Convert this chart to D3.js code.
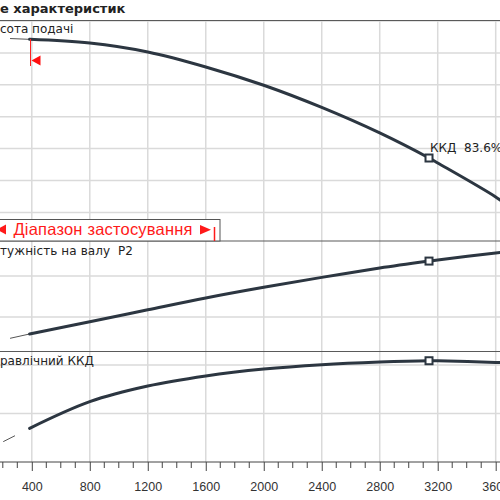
<!DOCTYPE html>
<meta charset="utf-8">
<style>
body { margin: 0; background: #fff; }
.grid line { stroke: #dadada; stroke-width: 1.5px; }
.sep { stroke: #5a5a5a; stroke-width: 1.2px; }
.curve { fill: none; stroke: #2c3641; stroke-width: 3px; stroke-linecap: round; }
.thin { fill: none; stroke: #555; stroke-width: 1px; }
.lbl { font-family: "DejaVu Sans", sans-serif; font-size: 12px; fill: #222; white-space: pre; }
</style>
<body>
<script src="https://d3js.org/d3.v7.min.js"></script>
<script>

// data
var flow      = [385, 800, 1200, 1600, 2000, 2400, 2800, 3140, 3200, 3600, 3700];
var head      = [58.85, 58.62, 58.06, 57.12, 55.97, 54.58, 52.98, 51.41, 51.10, 48.97, 48.30];
var power     = [17.93, 19.42, 20.88, 22.32, 23.62, 24.83, 25.97, 26.82, 26.96, 27.80, 27.98];
var eff       = [27.8, 49.8, 62.7, 71.0, 76.7, 80.3, 82.5, 83.6, 83.6, 82.2, 81.7];
// thin parts left of the range
var lowFlow   = [250, 385];
var headLow   = [58.90, 58.85];
var powerLow  = [17.40, 17.93];
var effFlow   = [203, 284];
var effLow    = [16.8, 21.7];
var dutyFlow  = 3140;
var xTicks    = [400, 800, 1200, 1600, 2000, 2400, 2800, 3200, 3600];
var headGrid  = [48, 50, 52, 54, 56, 58, 60];
var powerGrid = [20, 25];
var effGrid   = [40, 80];

var svg = d3.select("body").append("svg")
    .attr("width", 500)
    .attr("height", 500);

// scales
var x = d3.scaleLinear().domain([400, 3600]).range([31.8, 495.7]);
var yH = d3.scaleLinear().domain([48, 60]).range([212.4, 21]);
var yP = d3.scaleLinear().domain([20, 25]).range([317, 276]);
var yE = d3.scaleLinear().domain([0, 80]).range([462, 365.1]);

// grid
var grid = svg.append("g").attr("class", "grid");
grid.selectAll(".v").data(xTicks).enter().append("line")
    .attr("x1", d => x(d)).attr("x2", d => x(d))
    .attr("y1", 20).attr("y2", 462);
[[headGrid, yH], [powerGrid, yP], [effGrid, yE]].forEach(function(g) {
  grid.selectAll(null).data(g[0]).enter().append("line")
      .attr("x1", 0).attr("x2", 500)
      .attr("y1", d => g[1](d)).attr("y2", d => g[1](d));
});

// panel separators
[20.5, 241, 351.5].forEach(function(y) {
  svg.append("line").attr("class", "sep")
      .attr("x1", 0).attr("x2", 500).attr("y1", y).attr("y2", y);
});

// x axis
var minor = d3.range(200, 3700, 100).filter(d => d % 400 != 0);
var axis = svg.append("g").attr("transform", "translate(0,462)")
    .call(d3.axisBottom(x).tickValues(xTicks).tickSize(9).tickPadding(11).tickFormat(d3.format("d")));
axis.select(".domain").attr("d", "M0,0H500").attr("stroke", "#444");
axis.selectAll(".tick line").attr("stroke", "#444");
axis.selectAll("text").attr("font-family", "'Liberation Sans', Arial, sans-serif")
    .attr("font-size", "12.5px").attr("fill", "#333");
axis.selectAll(".minor").data(minor).enter().append("line")
    .attr("x1", d => x(d)).attr("x2", d => x(d))
    .attr("y1", 0).attr("y2", 6).attr("stroke", "#444");

// curves
function draw(xs, ys, yScale, cls) {
  var pts = xs.map((q, i) => [x(q), yScale(ys[i])]);
  svg.append("path").attr("class", cls)
      .attr("d", d3.line().curve(cls == "curve" ? d3.curveCatmullRom.alpha(0.5) : d3.curveLinear)(pts));
}
draw(lowFlow, headLow, yH, "thin");
draw(lowFlow, powerLow, yP, "thin");
draw(effFlow, effLow, yE, "thin");
draw(flow, head, yH, "curve");
draw(flow, power, yP, "curve");
draw(flow, eff, yE, "curve");

// duty point markers
var i = flow.indexOf(dutyFlow);
[[head, yH], [power, yP], [eff, yE]].forEach(function(c) {
  svg.append("rect")
      .attr("x", x(dutyFlow) - 3.5).attr("y", c[1](c[0][i]) - 3.5)
      .attr("width", 7).attr("height", 7)
      .attr("fill", "#fff").attr("stroke", "#2c3641").attr("stroke-width", 2);
});

// red start marker
svg.append("line").attr("x1", 30.5).attr("x2", 30.5).attr("y1", 39).attr("y2", 66)
    .attr("stroke", "#ff2020").attr("stroke-width", 1);
svg.append("path").attr("d", "M31.5,60.5L40.5,55.5L40.5,65.5Z").attr("fill", "#ff1010");

// application range box
svg.append("rect").attr("x", -2).attr("y", 219.5).attr("width", 222).attr("height", 21.5)
    .attr("fill", "#fff").attr("stroke", "#555").attr("stroke-width", 1);
svg.append("path").attr("d", "M6,224.5L6,234.5L-3,229.5Z").attr("fill", "#ff1a1a");
svg.append("path").attr("d", "M200,225L200,234.5L211,229.7Z").attr("fill", "#ff1a1a");
svg.append("line").attr("x1", 214.5).attr("x2", 214.5).attr("y1", 227).attr("y2", 241)
    .attr("stroke", "#ff1a1a").attr("stroke-width", 1.5);
svg.append("text").attr("x", 13.5).attr("y", 234.5)
    .attr("font-family", "'Liberation Sans', Arial, sans-serif").attr("font-size", "16.5px")
    .attr("fill", "#ff1a1a").attr("textLength", 179).attr("lengthAdjust", "spacing")
    .text("Діапазон застосування");

// titles and labels
svg.append("text").attr("x", 0).attr("y", 12.5)
    .attr("font-family", "'DejaVu Sans', sans-serif").attr("font-size", "13px")
    .attr("font-weight", "bold").attr("fill", "#222")
    .text("е характеристик");
svg.append("text").attr("class", "lbl").attr("x", 0).attr("y", 33).text("сота подачі");
svg.append("text").attr("class", "lbl").attr("x", 0).attr("y", 254.5)
    .attr("font-family", "'Liberation Sans', Arial, sans-serif").attr("font-size", "12.5px")
    .attr("textLength", 133).attr("lengthAdjust", "spacing")
    .text("тужність на валу  P2");
svg.append("text").attr("class", "lbl").attr("x", 0).attr("y", 365).text("равлічний ККД");
svg.append("text").attr("class", "lbl").attr("x", 430).attr("y", 152)
    .attr("fill", "#4a5866").text("ККД  83.6%");

</script>
</body>
